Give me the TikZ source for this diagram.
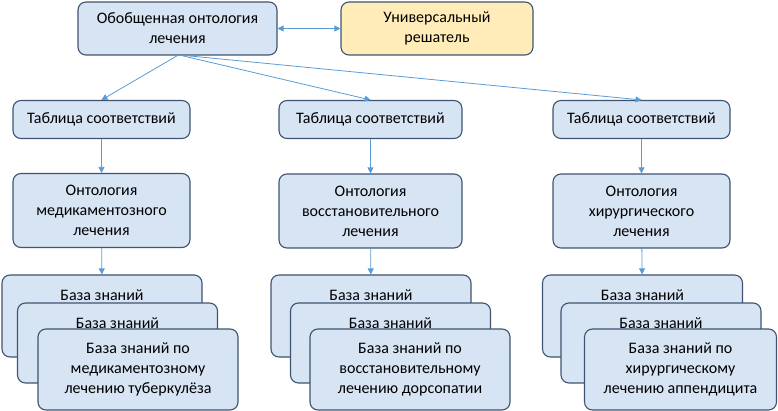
\documentclass[tikz,border=0pt]{standalone}
\usepackage{fontspec}
\setmainfont{Carlito}
\usetikzlibrary{arrows.meta}

\definecolor{boxfill}{RGB}{214,228,244}
\definecolor{boxline}{RGB}{62,84,112}
\definecolor{solverfill}{RGB}{255,236,184}
\definecolor{arrcol}{RGB}{91,155,213}

\begin{document}
\begin{tikzpicture}[
    x=1pt, y=-1pt,
    box/.style={rectangle, draw=boxline, fill=boxfill, line width=1.1pt, rounded corners=8pt,
                align=center, inner sep=3pt, font=\fontsize{16}{20}\selectfont},
    solver/.style={box, fill=solverfill},
    kbback/.style={box, minimum width=200pt, text height=22pt, text depth=54pt},
    kbmid/.style={box, minimum width=200pt, text height=22pt, text depth=52pt},
    kbfront/.style={box, minimum width=200pt, minimum height=81pt},
    arr/.style={-{Triangle[length=6pt,width=6pt]}, arrcol, line width=0.8pt},
    darr/.style={{Triangle[length=6pt,width=6pt]}-{Triangle[length=6pt,width=6pt]}, arrcol, line width=0.8pt},
  ]
  \useasboundingbox (0,0) rectangle (778,411);

  % === top level ===
  \node[box, minimum width=199pt, minimum height=53pt] (onto) at (177.5, 28.5) {Обобщенная онтология\\лечения};
  \node[solver, minimum width=192pt, minimum height=53pt] (solv) at (437, 28.5) {Универсальный\\решатель};

  % === mapping tables ===
  \node[box, minimum width=177pt, minimum height=38pt] (tab1) at (101.5, 119.5) {Таблица соответствий};
  \node[box, minimum width=183pt, minimum height=38pt] (tab2) at (370.5, 119.5) {Таблица соответствий};
  \node[box, minimum width=177pt, minimum height=38pt] (tab3) at (641.5, 119.5) {Таблица соответствий};

  % === domain ontologies ===
  \node[box, minimum width=177pt, minimum height=74pt] (ont1) at (101.5, 210.5) {Онтология\\медикаментозного\\лечения};
  \node[box, minimum width=183pt, minimum height=74pt] (ont2) at (370.5, 211) {Онтология\\восстановительного\\лечения};
  \node[box, minimum width=177pt, minimum height=74pt] (ont3) at (641.5, 211) {Онтология\\хирургического\\лечения};

  % === knowledge bases (left) ===
  \node[kbback] (kb1a) at (102, 316) {База знаний};
  \node[kbmid] (kb1b) at (117.5, 343) {База знаний};
  \node[kbfront] (kb1c) at (138, 369.5) {База знаний по\\медикаментозному\\лечению туберкулёза};

  % === knowledge bases (middle) ===
  \node[kbback] (kb2a) at (371, 316) {База знаний};
  \node[kbmid] (kb2b) at (390.5, 343) {База знаний};
  \node[kbfront] (kb2c) at (410, 369.5) {База знаний по\\восстановительному\\лечению дорсопатии};

  % === knowledge bases (right) ===
  \node[kbback] (kb3a) at (642.5, 316) {База знаний};
  \node[kbmid] (kb3b) at (661, 343) {База знаний};
  \node[kbfront, minimum width=192pt] (kb3c) at (680.5, 369.5) {База знаний по\\хирургическому\\лечению аппендицита};

  % connectors
  \draw[darr] (onto) -- (solv);
  \draw[arr] (onto.south) -- (tab1.north);
  \draw[arr] ([xshift=4pt]onto.south) -- (tab2.north);
  \draw[arr] ([xshift=8pt]onto.south) -- (tab3.north);
  \draw[arr] (tab1) -- (ont1);
  \draw[arr] (tab2) -- (ont2);
  \draw[arr] (tab3) -- (ont3);
  \draw[arr] (ont1) -- (kb1a);
  \draw[arr] (ont2) -- (kb2a);
  \draw[arr] (ont3) -- (kb3a);

\end{tikzpicture}
\end{document}
